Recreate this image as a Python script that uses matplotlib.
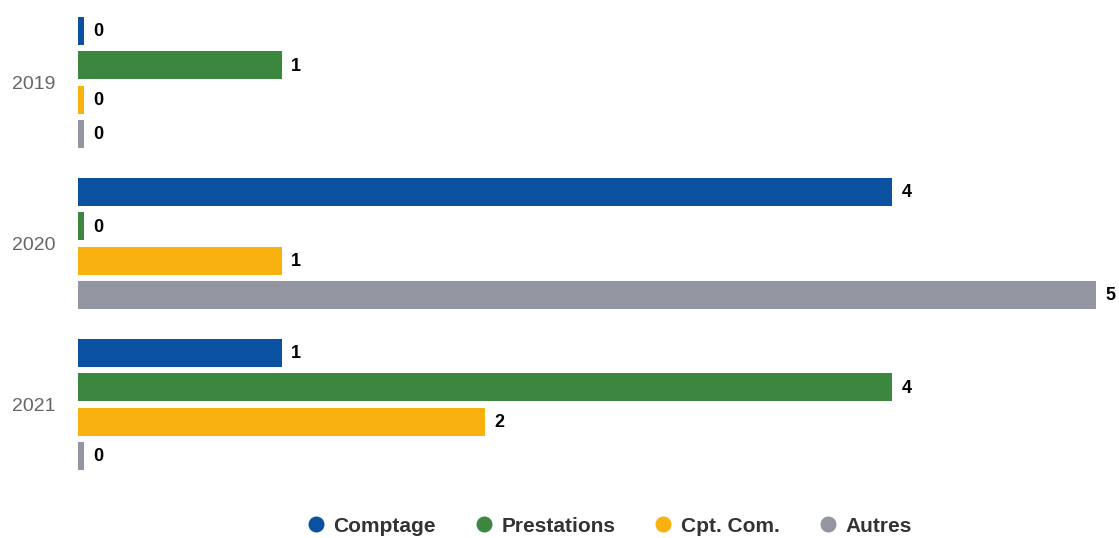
import matplotlib
matplotlib.use("Agg")
import matplotlib.pyplot as plt
from matplotlib.lines import Line2D
import numpy as np

plt.rcParams['font.family'] = ['Liberation Sans', 'DejaVu Sans']

years = ["2019", "2020", "2021"]
series = ["Comptage", "Prestations", "Cpt. Com.", "Autres"]
colors = ["#0a52a1", "#3d8640", "#f9b110", "#9395a1"]
comptage = [0, 4, 1]
prestations = [1, 0, 4]
cpt_com = [0, 1, 2]
autres = [0, 5, 0]
values = [comptage, prestations, cpt_com, autres]

W, H = 1119, 538
fig = plt.figure(figsize=(W / 100, H / 100), dpi=100)
ax = fig.add_axes([78 / W, 1 - 485 / H, (1096 - 78) / W, 483 / H])

step = 0.213
bh = 0.174
min_w = 0.03
for j, (name, vals, c) in enumerate(zip(series, values, colors)):
    ys = np.arange(len(years)) + (j - 1.5) * step
    widths = [max(v, min_w) for v in vals]
    ax.barh(ys, widths, height=bh, color=c, label=name)
    for y, v, w in zip(ys, vals, widths):
        ax.text(w + 0.045, y + 0.005, str(v), va="center", ha="left",
                fontsize=13, fontweight="bold", color="#000000", clip_on=False)

ax.set_xlim(0, 5)
ax.set_ylim(len(years) - 0.5, -0.5)
ax.set_yticks(range(len(years)))
ax.set_yticklabels(years, fontsize=14, color="#666666")
ax.tick_params(axis="y", length=0, pad=16.5)
ax.set_xticks([])
for s in ax.spines.values():
    s.set_visible(False)

handles = [Line2D([0], [0], marker="o", linestyle="", markersize=10.5,
                  markerfacecolor=c, markeredgecolor=c) for c in colors]
fig.legend(handles, series, loc="center", bbox_to_anchor=(608 / W, 1 - 526 / H),
           ncol=4, frameon=False, prop={"weight": "bold", "size": 15},
           handletextpad=0.3, columnspacing=1.75, handlelength=1.1,
           labelcolor="#333333")

fig.savefig("out.png", dpi=100)
